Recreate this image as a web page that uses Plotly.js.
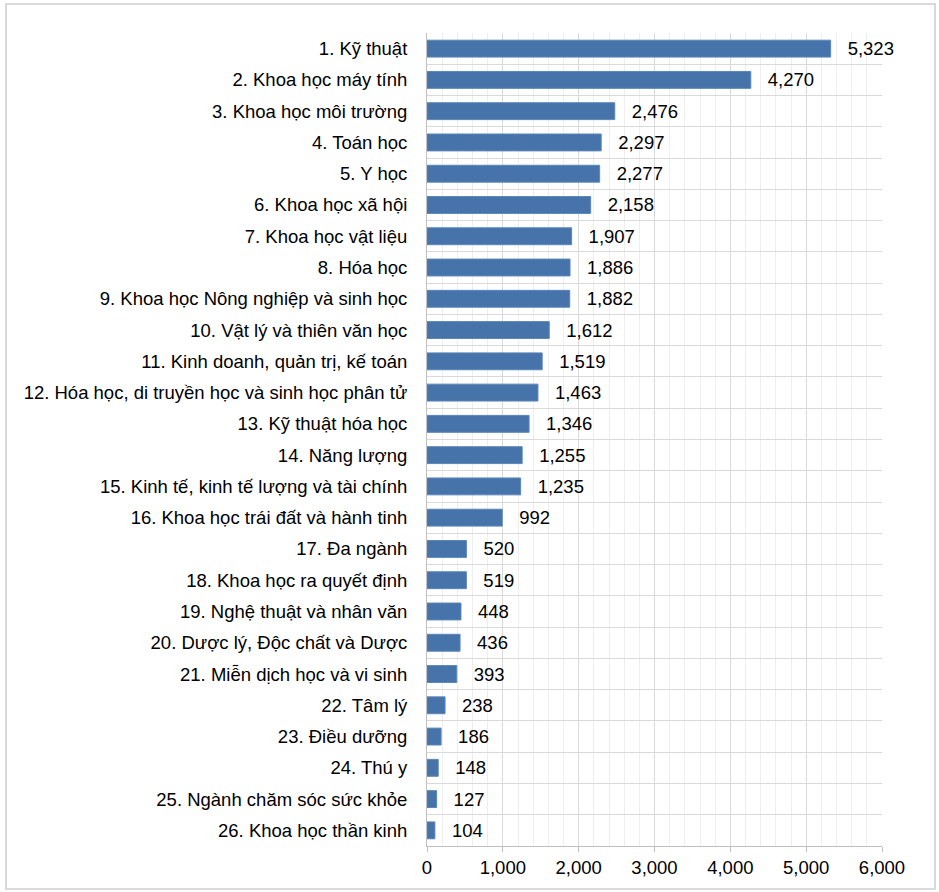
<!DOCTYPE html>
<html><head><meta charset="utf-8">
<script src="https://cdn.plot.ly/plotly-3.0.1.min.js"></script>
<style>
html,body{margin:0;padding:0;background:#fff;}
#wrap{position:relative;width:939px;height:892px;}
#chart{position:absolute;left:0;top:0;width:939px;height:892px;}
#frame{position:absolute;left:5px;top:3px;width:927px;height:883px;border:2px solid #d9d9d9;pointer-events:none;}
</style></head>
<body>
<div id="wrap"><div id="chart"></div><div id="frame"></div></div>
<script>
const categories = [
  "1. Kỹ thuật",
  "2. Khoa học máy tính",
  "3. Khoa học môi trường",
  "4. Toán học",
  "5. Y học",
  "6. Khoa học xã hội",
  "7. Khoa học vật liệu",
  "8. Hóa học",
  "9. Khoa học Nông nghiệp và sinh học",
  "10. Vật lý và thiên văn học",
  "11. Kinh doanh, quản trị, kế toán",
  "12. Hóa học, di truyền học và sinh học phân tử",
  "13. Kỹ thuật hóa học",
  "14. Năng lượng",
  "15. Kinh tế, kinh tế lượng và tài chính",
  "16. Khoa học trái đất và hành tinh",
  "17. Đa ngành",
  "18. Khoa học ra quyết định",
  "19. Nghệ thuật và nhân văn",
  "20. Dược lý, Độc chất và Dược",
  "21. Miễn dịch học và vi sinh",
  "22. Tâm lý",
  "23. Điều dưỡng",
  "24. Thú y",
  "25. Ngành chăm sóc sức khỏe",
  "26. Khoa học thần kinh"
];
const values = [5323, 4270, 2476, 2297, 2277, 2158, 1907, 1886, 1882, 1612, 1519, 1463, 1346, 1255, 1235, 992, 520, 519, 448, 436, 393, 238, 186, 148, 127, 104];
const xTicks = [0, 1000, 2000, 3000, 4000, 5000, 6000];

const positions = categories.map((c, i) => i);
const font = {family: "Liberation Sans, Arial, sans-serif", size: 18.5, color: "#000"};

const trace = {
  type: "bar",
  orientation: "h",
  x: values,
  y: positions,
  width: 0.54,
  marker: {color: "#4673A9", line: {color: "#5A86BA", width: 1}},
  text: values.map(v => v.toLocaleString("en-US")),
  texttemplate: "\u00a0\u00a0\u2009%{text}",
  textposition: "outside",
  constraintext: "none",
  textfont: font,
  cliponaxis: false,
  hoverinfo: "skip"
};

const layout = {
  width: 939, height: 892,
  margin: {l: 427, r: 57, t: 33, b: 46},
  paper_bgcolor: "#fff",
  plot_bgcolor: "#fff",
  font: font,
  showlegend: false,
  xaxis: {
    range: [0, 6000],
    tickvals: xTicks,
    tickformat: ",",
    ticks: "outside", ticklen: 5, tickcolor: "#bfbfbf", tickwidth: 1,
    showline: true, linecolor: "#bfbfbf", linewidth: 1,
    showgrid: true, gridcolor: "#d9d9d9", gridwidth: 1,
    zeroline: false,
    tickfont: font,
    minor: {dtick: 200, tick0: 0, showgrid: true, gridcolor: "#eeeeee", gridwidth: 1, ticks: ""}
  },
  yaxis: {
    range: [categories.length - 0.5, -0.5],
    tickvals: positions,
    ticktext: categories,
    ticks: "",
    ticklabelstandoff: 15,
    showgrid: false,
    zeroline: false,
    showline: true, linecolor: "#bfbfbf", linewidth: 1,
    tickfont: font,
    minor: {tickvals: positions.concat([categories.length]).map(p => p - 0.5), showgrid: true, gridcolor: "#d9d9d9", gridwidth: 1, ticks: ""}
  }
};

Plotly.newPlot("chart", [trace], layout, {displayModeBar: false, staticPlot: true});
</script>
</body></html>
